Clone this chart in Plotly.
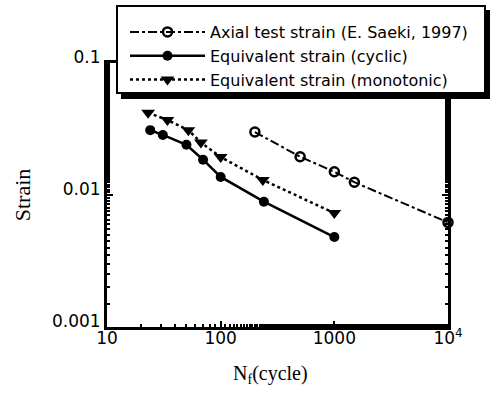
import plotly.graph_objects as go

# Data
n_axial = [200, 500, 1000, 1500, 10000]
strain_axial = [0.030, 0.0195, 0.015, 0.0125, 0.0062]

n_cyclic = [24, 31, 50, 70, 100, 240, 1000]
strain_cyclic = [0.031, 0.0285, 0.024, 0.0185, 0.0137, 0.0089, 0.0048]

n_mono = [23, 34, 52, 67, 100, 235, 1000]
strain_mono = [0.042, 0.037, 0.031, 0.025, 0.0194, 0.013, 0.0073]

names = ["Axial test strain (E. Saeki, 1997)",
         "Equivalent strain (cyclic)",
         "Equivalent strain (monotonic)"]

x_tickvals = [10, 100, 1000, 10000]
x_ticktext = ["10", "100", "1000", "10<sup>4</sup>"]
y_tickvals = [0.001, 0.01, 0.1]
y_ticktext = ["0.001", "0.01", "0.1"]

W, H = 495, 395
ML, MR, MT, MB = 107, 47, 63, 68
PW, PH = W - ML - MR, H - MT - MB


def px(x):
    return (x - ML) / PW


def py(y):
    return (H - MB - y) / PH


fig = go.Figure()
fig.add_trace(go.Scatter(
    x=n_axial, y=strain_axial, name=names[0], mode="lines+markers", cliponaxis=False,
    line=dict(color="black", width=2, dash="dashdot"),
    marker=dict(symbol="circle-open", size=9, color="black", line=dict(width=2.5))))
fig.add_trace(go.Scatter(
    x=n_cyclic, y=strain_cyclic, name=names[1], mode="lines+markers", cliponaxis=False,
    line=dict(color="black", width=2.5),
    marker=dict(symbol="circle", size=10, color="black")))
fig.add_trace(go.Scatter(
    x=n_mono, y=strain_mono, name=names[2], mode="lines+markers", cliponaxis=False,
    line=dict(color="black", width=2.5, dash="dot"),
    marker=dict(symbol="triangle-down", size=12, color="black")))

axis_common = dict(
    type="log", showline=True, linecolor="black", linewidth=3, mirror="ticks",
    ticks="inside", ticklen=6, tickwidth=2, tickcolor="black",
    showgrid=False, zeroline=False,
    tickfont=dict(family="DejaVu Sans", size=17, color="black"),
    minor=dict(ticks="inside", ticklen=3, tickwidth=2, tickcolor="black", showgrid=False),
)

fig.update_xaxes(axis_common, range=[1, 4], tickvals=x_tickvals, ticktext=x_ticktext,
                 ticklabelstandoff=-6)
fig.update_yaxes(axis_common, range=[-3, -1], tickvals=y_tickvals, ticktext=y_ticktext,
                 ticklabelshift=-6,
                 title=dict(text="Strain",
                            font=dict(family="Liberation Serif", size=22, color="black"),
                            standoff=16))

fig.add_annotation(text="N<sub>f</sub>(cycle)", xref="paper", yref="paper",
                   x=px(270), y=py(374), xanchor="center", yanchor="middle",
                   showarrow=False,
                   font=dict(family="Liberation Serif", size=20, color="black"))

# legend box with drop shadow
fig.add_shape(type="rect", xref="paper", yref="paper", layer="above",
              x0=px(121), x1=px(490), y0=py(99), y1=py(10),
              fillcolor="black", line=dict(width=0))
fig.add_shape(type="rect", xref="paper", yref="paper", layer="above",
              x0=px(117), x1=px(485), y0=py(93), y1=py(6),
              fillcolor="white", line=dict(color="black", width=2))

fig.update_layout(
    width=W, height=H,
    margin=dict(l=ML, r=MR, t=MT, b=MB, autoexpand=False),
    paper_bgcolor="white", plot_bgcolor="white",
    showlegend=True,
    legend=dict(x=px(125), y=py(15), xanchor="left", yanchor="top",
                bgcolor="rgba(0,0,0,0)", borderwidth=0,
                itemwidth=75, tracegroupgap=0,
                font=dict(family="DejaVu Sans", size=16, color="black")),
)

fig.write_html("out.html")
